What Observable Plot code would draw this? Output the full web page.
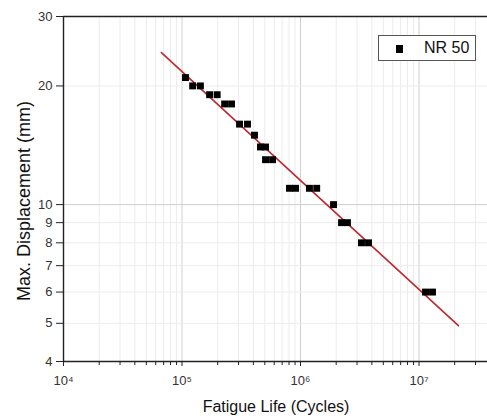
<!DOCTYPE html>
<html>
<head>
<meta charset="utf-8">
<script src="https://cdn.jsdelivr.net/npm/d3@7"></script>
<script src="https://cdn.jsdelivr.net/npm/@observablehq/plot@0.6"></script>
<style>
  html, body { margin: 0; padding: 0; overflow: hidden; background: #fff; }
  #wrap { position: relative; width: 487px; height: 418px; overflow: hidden; font-family: "Liberation Sans", Arial, sans-serif; }
  #chart svg { max-width: none !important; display: block; }
  .ttl { position: absolute; white-space: nowrap; color: #111; }
  #ytitle { left: 24px; top: 201px; font-size: 18px; transform: translate(-50%, -50%) rotate(-90deg); }
  #xtitle { left: 276px; top: 407px; font-size: 16px; transform: translate(-50%, -50%); }
  #legend { position: absolute; left: 378px; top: 35px; width: 96px; height: 24px; border: 1px solid #555; background: #fff; }
  #legend .sw { position: absolute; left: 17px; top: 9px; width: 7px; height: 8px; background: #000; }
  #legend .lab { position: absolute; left: 45px; top: 3px; font-size: 16px; color: #111; }
</style>
</head>
<body>
<div id="wrap">
  <div id="chart"></div>
  <div class="ttl" id="ytitle">Max. Displacement (mm)</div>
  <div class="ttl" id="xtitle">Fatigue Life (Cycles)</div>
  <div id="legend"><div class="sw"></div><div class="lab">NR 50</div></div>
</div>
<script>
// Data
const seriesName = "NR 50";
const cycles = [1.07e5, 1.23e5, 1.43e5, 1.71e5, 1.98e5, 2.29e5, 2.62e5, 3.06e5, 3.57e5, 4.09e5,
                4.59e5, 5.07e5, 5.07e5, 5.81e5, 8.07e5, 9.08e5, 1.19e6, 1.37e6, 1.90e6, 2.22e6,
                2.49e6, 3.27e6, 3.75e6, 1.135e7, 1.30e7];
const displacement = [21, 20, 20, 19, 19, 18, 18, 16, 16, 15,
                      14, 14, 13, 13, 11, 11, 11, 11, 10, 9,
                      9, 8, 8, 6, 6];
// fitted power-law line endpoints
const fitCycles = [6.7e4, 2.15e7];
const fitDisp = [24.3, 4.93];
// ticks
const xMajorTicks = [1e4, 1e5, 1e6, 1e7];
const xMinorMult = [2, 3, 4, 5, 6, 7, 8, 9];
const yTicks = [4, 5, 6, 7, 8, 9, 10, 20, 30];
const yMajorGrid = [10];
const yMinorGrid = [5, 6, 7, 8, 9, 20];

const xMinorTicks = [];
for (const d of [1e4, 1e5, 1e6, 1e7]) for (const m of xMinorMult) xMinorTicks.push(d * m);

const points = cycles.map((c, i) => ({c, d: displacement[i]}));
const fit = fitCycles.map((c, i) => ({c, d: fitDisp[i]}));
const sup = "⁰¹²³⁴⁵⁶⁷⁸⁹";
const fmtPow = v => "10" + String(Math.round(Math.log10(v))).split("").map(ch => sup[+ch]).join("");

const chart = Plot.plot({
  width: 545,
  height: 418,
  marginLeft: 63,
  marginRight: 8,
  marginTop: 16,
  marginBottom: 57,
  x: {type: "log", domain: [1e4, 1e8]},
  y: {type: "log", domain: [4, 30]},
  style: {fontFamily: "'Liberation Sans', Arial, sans-serif", fontSize: "13px", color: "#000", background: "#fff", maxWidth: "none"},
  marks: [
    Plot.gridX(xMinorTicks, {stroke: "#ececec", strokeOpacity: 1}),
    Plot.gridX([1e5, 1e6, 1e7], {stroke: "#cfcfcf", strokeOpacity: 1}),
    Plot.gridY(yMinorGrid, {stroke: "#ececec", strokeOpacity: 1}),
    Plot.gridY(yMajorGrid, {stroke: "#cfcfcf", strokeOpacity: 1}),
    Plot.axisX(xMinorTicks, {tickFormat: () => "", tickSize: 4, label: null, stroke: "#222"}),
    Plot.axisX(xMajorTicks, {tickFormat: fmtPow, tickSize: 5, tickPadding: 9, label: null, stroke: "#222", fill: "#333"}),
    Plot.axisY(yTicks, {tickFormat: d => String(d), tickSize: 7, tickPadding: 4, label: null, stroke: "#222", fill: "#333"}),
    Plot.ruleX([1e4], {stroke: "#222", strokeWidth: 1.4}),
    Plot.ruleY([4], {stroke: "#222", strokeWidth: 1.4}),
    Plot.ruleY([30], {stroke: "#222", strokeWidth: 1.4}),
    Plot.line(fit, {x: "c", y: "d", stroke: "#c0272d", strokeWidth: 1.6}),
    Plot.dot(points, {x: "c", y: "d", symbol: "square", fill: "#000", r: 3.9})
  ]
});
document.getElementById("chart").appendChild(chart);
</script>
</body>
</html>
